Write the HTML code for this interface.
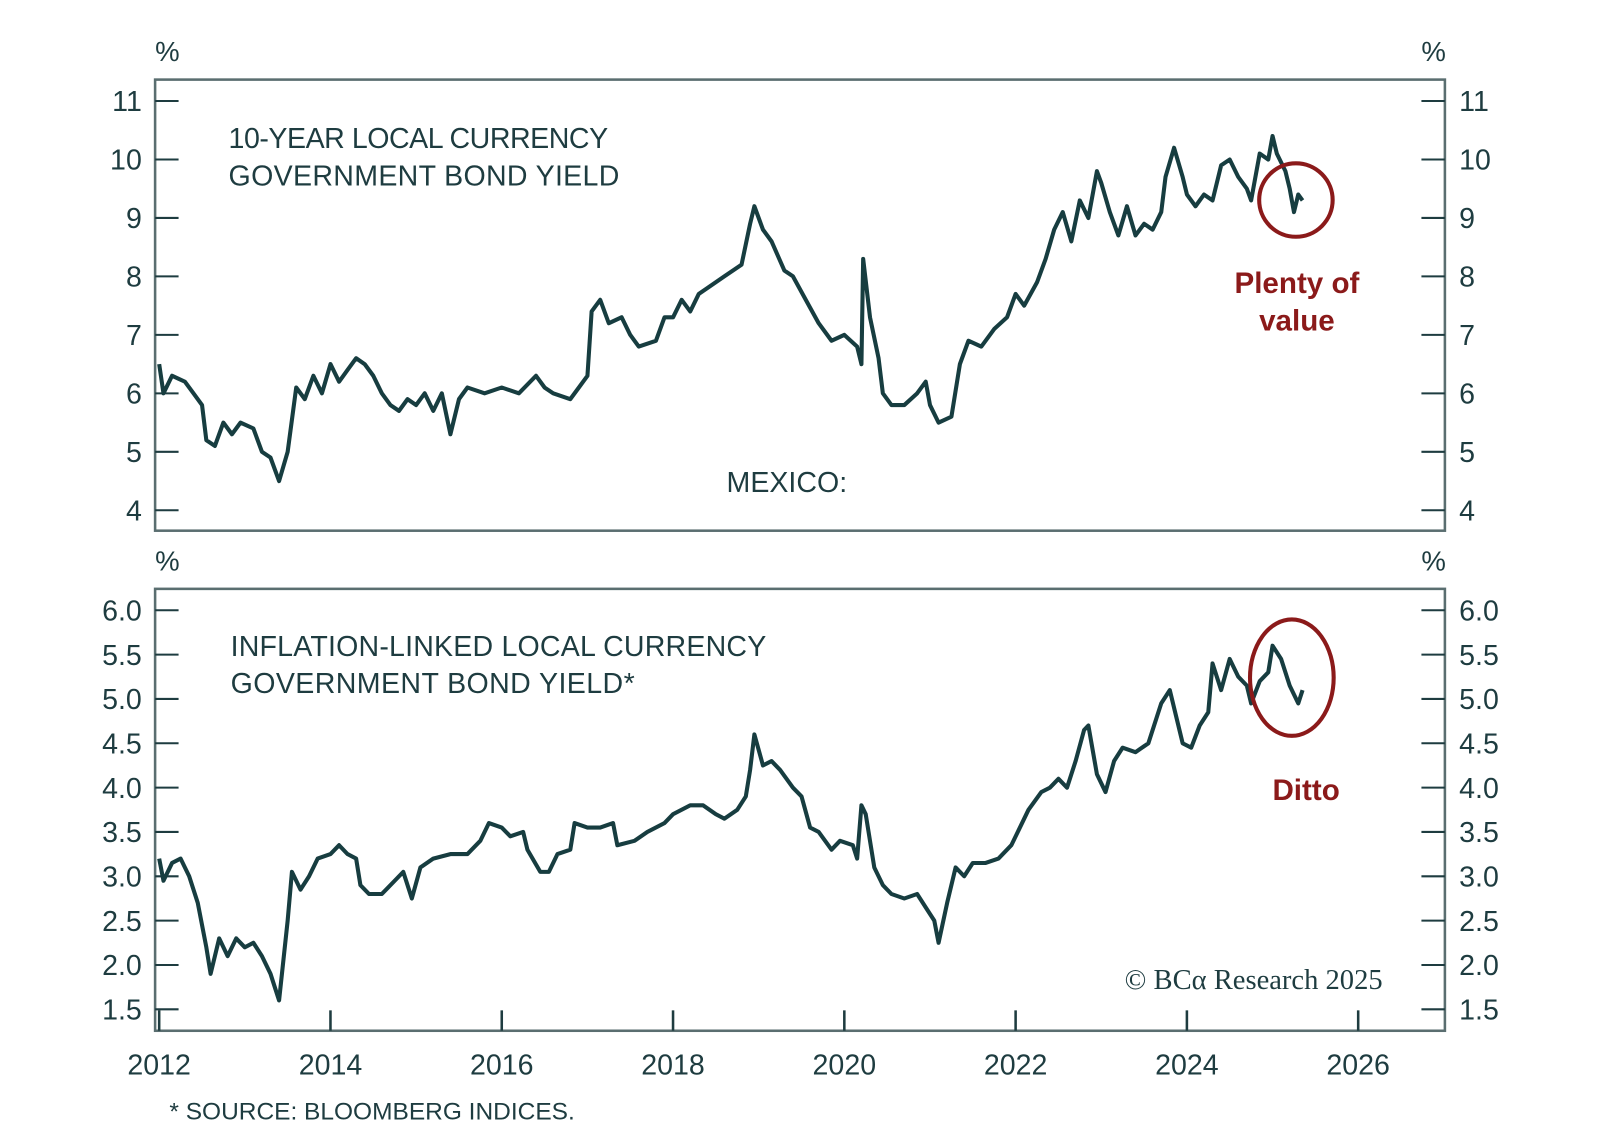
<!DOCTYPE html>
<html><head><meta charset="utf-8"><style>
body{margin:0;background:#fff;}
svg text{font-family:"Liberation Sans",sans-serif;}
</style></head><body>
<svg id="chart" width="1600" height="1142" viewBox="0 0 1568 1119" preserveAspectRatio="none" xmlns="http://www.w3.org/2000/svg">
<g id="content"></g>
<text x="224" y="145" font-size="28" fill="#1e3c40" textLength="372">10-YEAR LOCAL CURRENCY</text>
<text x="224" y="182" font-size="28" fill="#1e3c40" textLength="383">GOVERNMENT BOND YIELD</text>
<text x="712" y="482" font-size="28" fill="#1e3c40">MEXICO:</text>
<text x="226" y="643" font-size="28" fill="#1e3c40" textLength="525">INFLATION-LINKED LOCAL CURRENCY</text>
<text x="226" y="679" font-size="28" fill="#1e3c40" textLength="396">GOVERNMENT BOND YIELD*</text>
<text x="1271" y="287" font-size="29" font-weight="bold" fill="#8b1a1a" text-anchor="middle">Plenty of</text>
<text x="1271" y="324" font-size="29" font-weight="bold" fill="#8b1a1a" text-anchor="middle">value</text>
<text x="1280" y="784" font-size="29" font-weight="bold" fill="#8b1a1a" text-anchor="middle">Ditto</text>
<circle cx="1270" cy="196" r="36" fill="none" stroke="#8b1a1a" stroke-width="4"/>
<ellipse cx="1266" cy="664" rx="41" ry="57" fill="none" stroke="#8b1a1a" stroke-width="4"/>
<text x="1355" y="969" font-size="28" fill="#1e3c40" text-anchor="end" style="font-family:'Liberation Serif',serif">© BCα Research 2025</text>
<text x="166" y="1097" font-size="24" fill="#1e3c40">* SOURCE: BLOOMBERG INDICES.</text>
</svg>
<script>
const topDates=[2012.0,2012.05,2012.15,2012.3,2012.4,2012.5,2012.55,2012.65,2012.75,2012.85,2012.95,2013.1,2013.2,2013.3,2013.4,2013.5,2013.6,2013.7,2013.8,2013.9,2014.0,2014.1,2014.2,2014.3,2014.4,2014.5,2014.6,2014.7,2014.8,2014.9,2015.0,2015.1,2015.2,2015.3,2015.4,2015.5,2015.6,2015.8,2016.0,2016.2,2016.4,2016.5,2016.6,2016.8,2016.9,2017.0,2017.05,2017.15,2017.25,2017.4,2017.5,2017.6,2017.8,2017.9,2018.0,2018.1,2018.2,2018.3,2018.4,2018.6,2018.8,2018.9,2018.95,2019.05,2019.15,2019.3,2019.4,2019.55,2019.7,2019.85,2020.0,2020.15,2020.2,2020.22,2020.3,2020.4,2020.45,2020.55,2020.7,2020.85,2020.95,2021.0,2021.1,2021.25,2021.35,2021.45,2021.6,2021.75,2021.9,2022.0,2022.1,2022.25,2022.35,2022.45,2022.55,2022.65,2022.75,2022.85,2022.95,2023.0,2023.1,2023.2,2023.3,2023.4,2023.5,2023.6,2023.7,2023.75,2023.85,2023.95,2024.0,2024.1,2024.2,2024.3,2024.4,2024.5,2024.6,2024.7,2024.75,2024.85,2024.95,2025.0,2025.05,2025.15,2025.2,2025.25,2025.3,2025.35];
const topValues=[6.5,6.0,6.3,6.2,6.0,5.8,5.2,5.1,5.5,5.3,5.5,5.4,5.0,4.9,4.5,5.0,6.1,5.9,6.3,6.0,6.5,6.2,6.4,6.6,6.5,6.3,6.0,5.8,5.7,5.9,5.8,6.0,5.7,6.0,5.3,5.9,6.1,6.0,6.1,6.0,6.3,6.1,6.0,5.9,6.1,6.3,7.4,7.6,7.2,7.3,7.0,6.8,6.9,7.3,7.3,7.6,7.4,7.7,7.8,8.0,8.2,8.9,9.2,8.8,8.6,8.1,8.0,7.6,7.2,6.9,7.0,6.8,6.5,8.3,7.3,6.6,6.0,5.8,5.8,6.0,6.2,5.8,5.5,5.6,6.5,6.9,6.8,7.1,7.3,7.7,7.5,7.9,8.3,8.8,9.1,8.6,9.3,9.0,9.8,9.6,9.1,8.7,9.2,8.7,8.9,8.8,9.1,9.7,10.2,9.7,9.4,9.2,9.4,9.3,9.9,10.0,9.7,9.5,9.3,10.1,10.0,10.4,10.1,9.8,9.5,9.1,9.4,9.3];
const botDates=[2012.0,2012.05,2012.15,2012.25,2012.35,2012.45,2012.55,2012.6,2012.7,2012.8,2012.9,2013.0,2013.1,2013.2,2013.3,2013.4,2013.5,2013.55,2013.65,2013.75,2013.85,2014.0,2014.1,2014.2,2014.3,2014.35,2014.45,2014.6,2014.75,2014.85,2014.95,2015.05,2015.2,2015.4,2015.6,2015.75,2015.85,2016.0,2016.1,2016.25,2016.3,2016.45,2016.55,2016.65,2016.8,2016.85,2017.0,2017.15,2017.3,2017.35,2017.55,2017.7,2017.9,2018.0,2018.2,2018.35,2018.5,2018.6,2018.75,2018.85,2018.9,2018.95,2019.05,2019.15,2019.25,2019.4,2019.5,2019.6,2019.7,2019.85,2019.95,2020.1,2020.15,2020.2,2020.25,2020.35,2020.45,2020.55,2020.7,2020.85,2020.95,2021.05,2021.1,2021.2,2021.3,2021.4,2021.5,2021.65,2021.8,2021.95,2022.05,2022.15,2022.3,2022.4,2022.5,2022.6,2022.7,2022.8,2022.85,2022.95,2023.05,2023.15,2023.25,2023.4,2023.55,2023.7,2023.8,2023.95,2024.05,2024.15,2024.25,2024.3,2024.4,2024.5,2024.6,2024.7,2024.75,2024.85,2024.95,2025.0,2025.1,2025.2,2025.25,2025.3,2025.35];
const botValues=[3.2,2.95,3.15,3.2,3.0,2.7,2.2,1.9,2.3,2.1,2.3,2.2,2.25,2.1,1.9,1.6,2.5,3.05,2.85,3.0,3.2,3.25,3.35,3.25,3.2,2.9,2.8,2.8,2.95,3.05,2.75,3.1,3.2,3.25,3.25,3.4,3.6,3.55,3.45,3.5,3.3,3.05,3.05,3.25,3.3,3.6,3.55,3.55,3.6,3.35,3.4,3.5,3.6,3.7,3.8,3.8,3.7,3.65,3.75,3.9,4.2,4.6,4.25,4.3,4.2,4.0,3.9,3.55,3.5,3.3,3.4,3.35,3.2,3.8,3.7,3.1,2.9,2.8,2.75,2.8,2.65,2.5,2.25,2.7,3.1,3.0,3.15,3.15,3.2,3.35,3.55,3.75,3.95,4.0,4.1,4.0,4.3,4.65,4.7,4.15,3.95,4.3,4.45,4.4,4.5,4.95,5.1,4.5,4.45,4.7,4.85,5.4,5.1,5.45,5.25,5.15,4.95,5.2,5.3,5.6,5.45,5.15,5.05,4.95,5.1];
const topTicks=[4,5,6,7,8,9,10,11];
const botTicks=["1.5","2.0","2.5","3.0","3.5","4.0","4.5","5.0","5.5","6.0"];
const xTicks=[2012,2014,2016,2018,2020,2022,2024,2026];

const NS="http://www.w3.org/2000/svg";
const content=document.getElementById('content');
const L=152,R=1416;
const x=d=>156+(d-2012)*83.93;
const yTop=v=>500-(v-4)*57.29;
const yBot=v=>989-(v-1.5)*86.9;
const C="#1e3c40";
function mk(tag,attrs,parent){const e=document.createElementNS(NS,tag);for(const k in attrs)e.setAttribute(k,attrs[k]);(parent||content).appendChild(e);return e;}

function panel(top,bot,name){
  const r=mk('rect',{x:L,y:top,width:R-L,height:bot-top,fill:'none',stroke:'#5a6e70','stroke-width':2.5});
  
  
  const p1=mk('text',{x:164,y:top-18,'font-size':27,fill:C,'text-anchor':'middle'});
  p1.textContent='%';
  
  
  const p2=mk('text',{x:1405,y:top-18,'font-size':27,fill:C,'text-anchor':'middle'});
  p2.textContent='%';
  
  
}
panel(78,520,'top-panel');
panel(577,1010,'bottom-panel');

function yTicks(ticks,yf,name){
  ticks.forEach(t=>{
    const y=yf(parseFloat(t));
    const a=mk('line',{x1:L,x2:L+23,y1:y,y2:y,stroke:C,'stroke-width':2});
    
    
    const b=mk('line',{x1:R-23,x2:R,y1:y,y2:y,stroke:C,'stroke-width':2});
    
    
    const l=mk('text',{x:139,y:y+10,'font-size':28,fill:C,'text-anchor':'end'});
    l.textContent=t;
    
    
    const rr=mk('text',{x:1430,y:y+10,'font-size':28,fill:C,'text-anchor':'start'});
    rr.textContent=t;
    
    
  });
}
yTicks(topTicks,yTop,'top-y');
yTicks(botTicks,yBot,'bottom-y');

xTicks.forEach(t=>{
  const xx=x(t);
  const ln=mk('line',{x1:xx,x2:xx,y1:1010,y2:990,stroke:C,'stroke-width':2.5});
  
  
  const lb=mk('text',{x:xx,y:1053,'font-size':28,fill:C,'text-anchor':'middle'});
  lb.textContent=t;
  
  
});

function series(dates,vals,yf,name){
  const d=dates.map((t,i)=>(i?'L':'M')+x(t).toFixed(1)+','+yf(vals[i]).toFixed(1)).join(' ');
  const p=mk('path',{d:d,fill:'none',stroke:'#173d40','stroke-width':4,'stroke-linejoin':'round'});
  
  
}
series(topDates,topValues,yTop,'nominal-yield-line');
series(botDates,botValues,yBot,'real-yield-line');
</script>
</body></html>
